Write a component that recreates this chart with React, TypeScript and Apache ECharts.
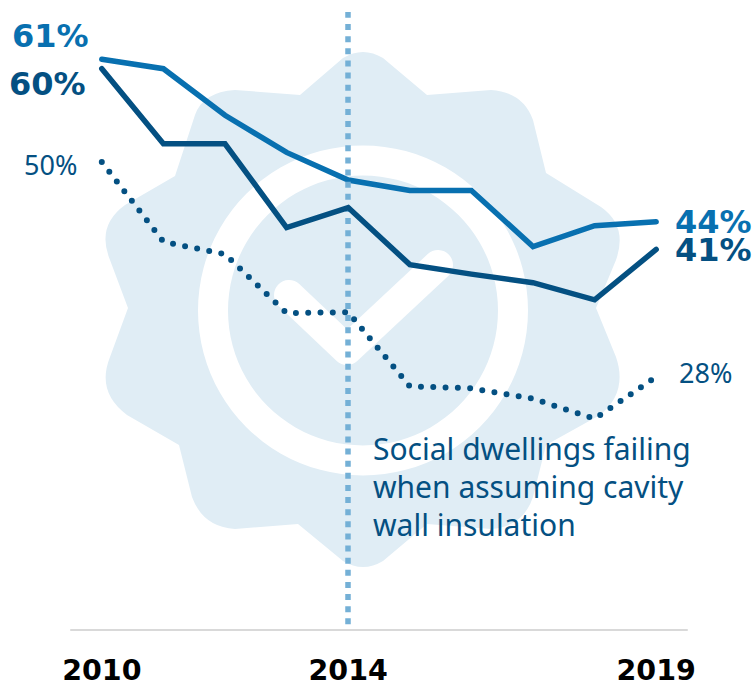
import React, { useEffect, useRef } from "react";
import * as echarts from "echarts";

const years = ["2010","2011","2012","2013","2014","2015","2016","2017","2018","2019"];
const shownYears = ["2010","2014","2019"];
const allDwellings = [61, 60, 55.1, 51.2, 48.3, 47.2, 47.2, 41.3, 43.5, 43.9];
const socialDwellings = [60, 52.1, 52.1, 43.3, 45.4, 39.4, 38.4, 37.5, 35.7, 41];
const cavityAssumed = [50.2, 41.8, 40.5, 34.3, 34.4, 26.6, 26.4, 25.3, 23.2, 27.6];
const markerYear = "2014";

const BLUE = "#0870B0";
const DARK = "#045082";
const BADGE = "#E0EDF5";
const BOLD = "DejaVu Sans";
const REGULAR = "Noto Sans";

const badgeOutline =
  "M300 95 L343 58 Q363 46 383 58 L427 95 L491 90 Q523 92 533 120 L546 173 L601 207 Q628 226 616 260 L596 308 " +
  "L616 357 Q628 392 600 415 L546 445 L533 497 Q523 527 491 529 L427 524 L383 561 Q363 573 343 561 L298 524 L235 529 " +
  "Q203 527 192 497 L179 445 L127 415 Q96 392 110 357 L128 308 L110 260 Q96 226 125 205 L175 176 L195 115 Q203 92 235 90 Z";

echarts.graphic.registerShape("badge", echarts.graphic.extendPath(badgeOutline, {}));

export default function App() {
  const ref = useRef<HTMLDivElement>(null);
  useEffect(() => {
    const chart = echarts.init(ref.current!, undefined, { renderer: "svg" });
    const label = (text: string, x: number, y: number, color: string, size: number, bold: boolean, align = "left") => ({
      type: "text",
      x,
      y,
      z: 10,
      style: {
        text,
        fill: color,
        fontFamily: bold ? BOLD : REGULAR,
        fontWeight: bold ? "bold" : "normal",
        fontSize: size,
        lineHeight: bold ? 26 : size,
        align,
        verticalAlign: "middle",
      },
    });
    chart.setOption({
      animation: false,
      grid: { left: 71, right: 69, top: 12, bottom: 53 },
      xAxis: {
        type: "category",
        data: years,
        boundaryGap: true,
        axisLine: { show: true, lineStyle: { color: "#D9D9D9", width: 2 } },
        axisTick: { show: false },
        axisLabel: {
          interval: 0,
          margin: 29,
          fontFamily: BOLD,
          fontWeight: "bold",
          fontSize: 28.5,
          lineHeight: 24,
          color: "#000000",
          formatter: (v: string) => (shownYears.includes(v) ? v : ""),
        },
      },
      yAxis: { type: "value", min: 1.04, max: 65.96, show: false },
      graphic: [
        { type: "badge", x: 0, y: 0, z: 0, silent: true, style: { fill: BADGE } },
        { type: "ring", z: 0, silent: true, shape: { cx: 363, cy: 310.5, r: 165, r0: 135 }, style: { fill: "#FFFFFF" } },
        {
          type: "polyline",
          z: 0,
          silent: true,
          shape: { points: [[289, 295], [347, 350], [438, 265]] },
          style: { stroke: "#FFFFFF", fill: "none", lineWidth: 30, lineCap: "round", lineJoin: "round" },
        },
        label("61%", 12, 36, BLUE, 32, true),
        label("60%", 9, 84, DARK, 32, true),
        label("50%", 24, 164, DARK, 27, false),
        label("44%", 675, 222, BLUE, 32, true),
        label("41%", 675, 250, DARK, 32, true),
        label("28%", 679, 372, DARK, 27, false),
        label("Social dwellings failing", 373, 448, DARK, 30, false),
        label("when assuming cavity", 373, 486, DARK, 30, false),
        label("wall insulation", 373, 524, DARK, 30, false),
      ],
      series: [
        {
          type: "line",
          data: cavityAssumed,
          symbol: "none",
          z: 3,
          lineStyle: { color: DARK, width: 6, type: [0, 12.3], cap: "round", join: "round" },
          markLine: {
            silent: true,
            symbol: "none",
            label: { show: false },
            data: [{ xAxis: markerYear }],
            lineStyle: { color: "#74B0D6", width: 5.5, type: [6, 6.13], dashOffset: 7.13, cap: "butt" },
          },
        },
        {
          type: "line",
          data: allDwellings,
          symbol: "none",
          z: 4,
          lineStyle: { color: BLUE, width: 5.5, cap: "round", join: "miter" },
        },
        {
          type: "line",
          data: socialDwellings,
          symbol: "none",
          z: 5,
          lineStyle: { color: DARK, width: 5.5, cap: "round", join: "miter" },
        },
      ],
    });
    return () => chart.dispose();
  }, []);
  return <div ref={ref} style={{ position: "absolute", left: 0, top: 0, width: 756, height: 685 }} />;
}
